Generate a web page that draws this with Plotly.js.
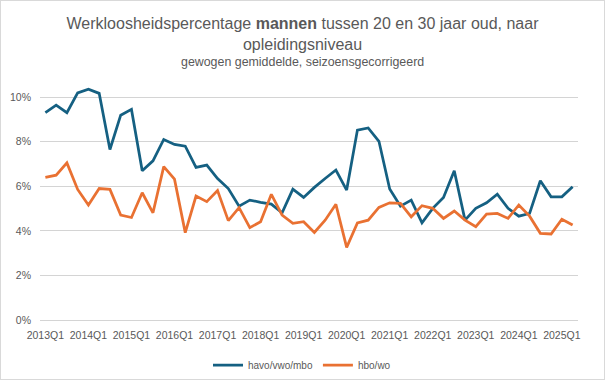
<!DOCTYPE html>
<html>
<head>
<meta charset="utf-8">
<script src="https://cdn.plot.ly/plotly-3.0.1.min.js"></script>
<style>
  html, body { margin: 0; padding: 0; background: #fff; }
  #wrap { position: relative; width: 605px; height: 380px; }
  #chart { width: 605px; height: 380px; }
  #frame { position: absolute; left: 0; top: 0; width: 603px; height: 378px; border: 1px solid #d9d9d9; pointer-events: none; }
</style>
</head>
<body>
<div id="wrap"><div id="chart"></div><div id="frame"></div></div>
<script>
const quarters = [
  "2013Q1","2013Q2","2013Q3","2013Q4","2014Q1","2014Q2","2014Q3","2014Q4",
  "2015Q1","2015Q2","2015Q3","2015Q4","2016Q1","2016Q2","2016Q3","2016Q4",
  "2017Q1","2017Q2","2017Q3","2017Q4","2018Q1","2018Q2","2018Q3","2018Q4",
  "2019Q1","2019Q2","2019Q3","2019Q4","2020Q1","2020Q2","2020Q3","2020Q4",
  "2021Q1","2021Q2","2021Q3","2021Q4","2022Q1","2022Q2","2022Q3","2022Q4",
  "2023Q1","2023Q2","2023Q3","2023Q4","2024Q1","2024Q2","2024Q3","2024Q4",
  "2025Q1","2025Q2"
];
const tickLabels = ["2013Q1","2014Q1","2015Q1","2016Q1","2017Q1","2018Q1","2019Q1",
  "2020Q1","2021Q1","2022Q1","2023Q1","2024Q1","2025Q1"];
const yTickVals = [0, 2, 4, 6, 8, 10];
const yTickText = ["0%", "2%", "4%", "6%", "8%", "10%"];
const havoVwoMbo = [
  9.31, 9.64, 9.30, 10.19, 10.36, 10.17, 7.65, 9.19,
  9.45, 6.70, 7.14, 8.10, 7.88, 7.80, 6.85, 6.95,
  6.35, 5.90, 5.11, 5.38, 5.28, 5.20, 4.81, 5.87,
  5.50, 5.95, 6.35, 6.73, 5.83, 8.52, 8.62, 8.02,
  5.88, 5.11, 5.38, 4.36, 5.01, 5.50, 6.70, 4.48,
  5.01, 5.26, 5.65, 5.01, 4.66, 4.78, 6.25, 5.53,
  5.53, 5.98
];
const hboWo = [
  6.40, 6.50, 7.05, 5.86, 5.16, 5.90, 5.86, 4.71,
  4.60, 5.71, 4.81, 6.88, 6.32, 3.92, 5.56, 5.31,
  5.81, 4.46, 5.04, 4.14, 4.41, 5.64, 4.71, 4.34,
  4.41, 3.93, 4.48, 5.19, 3.26, 4.36, 4.48, 5.05,
  5.26, 5.23, 4.63, 5.13, 5.01, 4.56, 4.89, 4.48,
  4.19, 4.75, 4.78, 4.56, 5.16, 4.66, 3.89, 3.86,
  4.52, 4.26
];
const seriesNames = ["havo/vwo/mbo", "hbo/wo"];

const font = "Liberation Sans, Arial, sans-serif";
const grey = "#595959";
const gridGrey = "#d4d4d4";
const plotH = 234;

const traces = [
  { x: quarters, y: havoVwoMbo, name: seriesNames[0], type: "scatter", mode: "lines",
    line: { color: "#156082", width: 2.75 } },
  { x: quarters, y: hboWo, name: seriesNames[1], type: "scatter", mode: "lines",
    line: { color: "#E97132", width: 2.75 } }
];

const layout = {
  width: 605, height: 380,
  margin: { l: 40, r: 27, t: 86, b: 60, autoexpand: false },
  paper_bgcolor: "#ffffff", plot_bgcolor: "#ffffff",
  font: { family: font, color: grey, size: 11 },
  title: {
    text: "Werkloosheidspercentage <b>mannen</b> tussen 20 en 30 jaar oud, naar<br>opleidingsniveau",
    font: { family: font, size: 16, color: grey },
    x: 0.5, xanchor: "center", xref: "container",
    y: 1 - 29 / 380, yanchor: "middle", yref: "container"
  },
  annotations: [{
    text: "gewogen gemiddelde, seizoensgecorrigeerd",
    xref: "paper", yref: "paper", x: 0.5 - 7 / 538, y: (320 - 62) / plotH,
    xanchor: "center", yanchor: "middle", showarrow: false,
    font: { family: font, size: 12.4, color: grey }
  }],
  xaxis: {
    type: "category",
    range: [-0.5, quarters.length - 0.5],
    tickmode: "array", tickvals: tickLabels, ticktext: tickLabels,
    ticks: "", ticklabelstandoff: 5, showgrid: false, zeroline: false,
    showline: true, linecolor: gridGrey, linewidth: 1,
    tickfont: { family: font, size: 10.5, color: grey },
    fixedrange: true
  },
  yaxis: {
    range: [0, 10.5],
    tickmode: "array", tickvals: yTickVals, ticktext: yTickText,
    ticks: "", ticklabelstandoff: 8, showgrid: true, gridcolor: gridGrey, gridwidth: 1,
    zeroline: false, showline: false,
    tickfont: { family: font, size: 10.5, color: grey },
    fixedrange: true
  },
  showlegend: true,
  legend: {
    orientation: "h", x: 0.5 - 7 / 538, xanchor: "center",
    y: (320 - 365) / plotH, yanchor: "middle",
    font: { family: font, size: 10, color: grey },
    itemwidth: 30, bgcolor: "rgba(0,0,0,0)"
  }
};

Plotly.newPlot("chart", traces, layout, { displayModeBar: false, staticPlot: true });
</script>
</body>
</html>
